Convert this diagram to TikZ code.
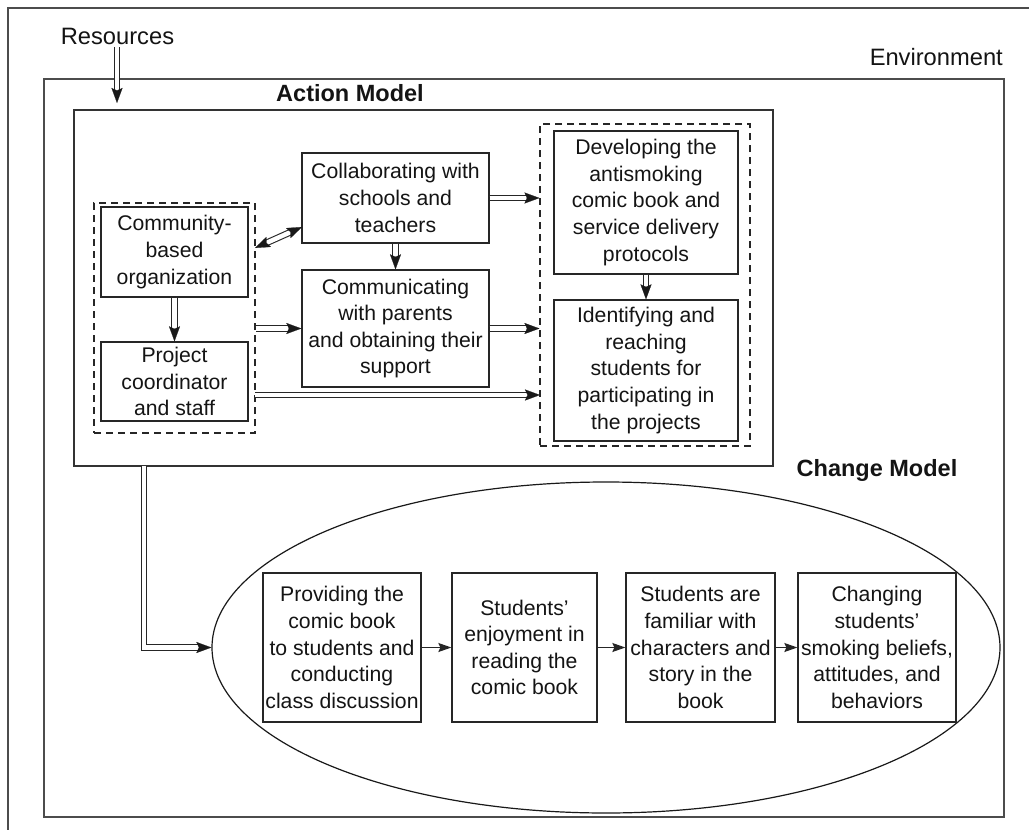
\documentclass[tikz,border=0pt]{standalone}
\usepackage{fontspec}
\setmainfont{Liberation Sans}
\usetikzlibrary{arrows.meta,shapes.geometric,calc}
\tikzset{
 box/.style={draw=black!85, line width=1.3pt, inner sep=1pt, align=center,
   font=\fontsize{21.2}{26.6}\selectfont, text=black!92},
 grp/.style={draw=black!85, line width=1.1pt, dash pattern=on 7pt off 5pt, inner sep=0pt},
 frame/.style={draw=black!70, line width=1.4pt, inner sep=0pt},
 dbl/.style={draw=black!85, line width=1.1pt, double=white, double distance=4.5pt},
 tipline/.style={draw=white, line width=0.2pt, -{Stealth[length=15pt,width=11pt,inset=2.5pt,black!90]}},
 tipboth/.style={draw=white, line width=0.2pt, {Stealth[length=15pt,width=11pt,inset=2.5pt,black!90]}-{Stealth[length=15pt,width=11pt,inset=2.5pt,black!90]}},
 sarrow/.style={draw=black!85, line width=1.2pt, -{Stealth[length=13pt,width=9pt,inset=2pt]}},
 lbl/.style={font=\fontsize{23.7}{28}\selectfont, text=black!92, inner sep=0pt},
 blbl/.style={font=\fontsize{23.5}{28}\selectfont\bfseries, text=black!92, inner sep=0pt},
}
\newcommand{\dblto}[2]{%
  \draw[dbl, shorten >=12pt] (#1) -- (#2);
  \draw[tipline] ($(#2)!16pt!(#1)$) -- (#2);}
\begin{document}
\begin{tikzpicture}[x=1pt,y=-1pt]
\useasboundingbox (0,0) rectangle (1029,830);
\clip (0,0) rectangle (1029,830);
\fill[white] (0,0) rectangle (1029,830);
% outer frame (cut by the page)
\draw[frame] (8,840) -- (8,8) -- (1040,8);
% environment and action model frames
\node[frame, minimum width=960pt, minimum height=738pt] (env) at (524,448) {};
\node[frame, draw=black!80, line width=1.3pt, minimum width=699pt, minimum height=356pt] (am) at (423.5,288) {};
% labels
\node[lbl] (res) at (117.5,36) {Resources};
\node[lbl, anchor=east] (envl) at (1003,57) {Environment};
\node[blbl] (aml) at (350,93) {Action Model};
\node[blbl] (cml) at (877,470) {Change Model};
% groups
\node[grp, minimum width=161pt, minimum height=230pt] (lg) at (174.5,318) {};
\node[grp, minimum width=210pt, minimum height=322pt] (rg) at (645,285) {};
% action model boxes
\node[box, minimum width=147pt, minimum height=90pt] (cbo) at (174.5,252) {Community-\\based\\organization};
\node[box, minimum width=147pt, minimum height=79pt] (pcs) at (174.5,381.5) {Project\\coordinator\\and staff};
\node[box, minimum width=187pt, minimum height=90pt] (collab) at (395.5,198) {Collaborating with\\schools and\\teachers};
\node[box, minimum width=187pt, minimum height=117pt] (comm) at (395.5,328.5) {Communicating\\with parents\\and obtaining their\\support};
\node[box, minimum width=184pt, minimum height=143pt] (dev) at (646,202.5) {Developing the\\antismoking\\comic book and\\service delivery\\protocols};
\node[box, minimum width=184pt, minimum height=141pt] (ident) at (646,370.5) {Identifying and\\reaching\\students for\\participating in\\the projects};
% change model
\node[draw=black!90, line width=1.2pt, ellipse, minimum width=788pt, minimum height=331pt, inner sep=0pt] (ell) at (606,647.5) {};
\node[box, minimum width=158pt, minimum height=149pt] (prov) at (342,647.5) {Providing the\\comic book\\to students and\\conducting\\class discussion};
\node[box, minimum width=145pt, minimum height=149pt] (enjoy) at (524.5,647.5) {Students'\\enjoyment in\\reading the\\comic book};
\node[box, minimum width=149pt, minimum height=149pt] (famil) at (700.5,647.5) {Students are\\familiar with\\characters and\\story in the\\book};
\node[box, minimum width=158pt, minimum height=149pt] (chg) at (877,647.5) {Changing\\students'\\smoking beliefs,\\attitudes, and\\behaviors};
% coordinates for connectors
\coordinate (resA) at (117,47);
\coordinate (resB) at (117,103);
\coordinate (bA) at (302,227);
\coordinate (bB) at (255,248);
\path (lg.east |- comm.west) coordinate (lgC);
\path (rg.west |- collab.east) coordinate (rgA);
\path (rg.west |- comm.east) coordinate (rgB);
\coordinate (lgD) at (255,395);
\coordinate (rgD) at (540,395);
\coordinate (amS) at (144,466);
% double arrows
\dblto{resA}{resB}
\dblto{cbo.south}{pcs.north}
\dblto{collab.south}{comm.north}
\dblto{dev.south}{ident.north}
\dblto{lgC}{comm.west}
\dblto{collab.east}{rgA}
\dblto{comm.east}{rgB}
\dblto{lgD}{rgD}
% bidirectional
\draw[dbl, shorten >=12pt, shorten <=12pt] (bA) -- (bB);
\draw[tipboth] (bA) -- (bB);
% action model to change model
\draw[dbl, shorten >=12pt] (amS) |- (ell.west);
\draw[tipline] ($(ell.west)+(-16,0)$) -- (ell.west);
% single arrows
\draw[sarrow] (prov.east) -- (enjoy.west);
\draw[sarrow] (enjoy.east) -- (famil.west);
\draw[sarrow] (famil.east) -- (chg.west);
\end{tikzpicture}
\end{document}
